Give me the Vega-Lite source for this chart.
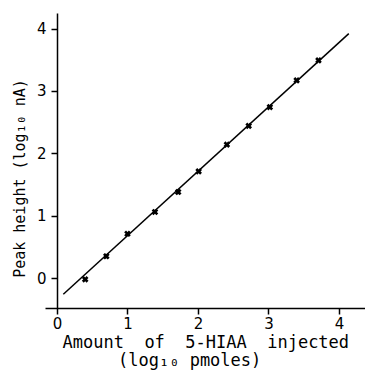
{
  "$schema": "https://vega.github.io/schema/vega-lite/v6.json",
  "autosize": "none",
  "width": 320,
  "height": 295,
  "padding": {"left": 45, "top": 13, "right": 0, "bottom": 64},
  "background": "white",
  "title": {
    "text": "(log₁₀\u00a0pmoles)",
    "orient": "bottom",
    "anchor": "start",
    "frame": "group",
    "dx": 73,
    "offset": 3,
    "baseline": "top",
    "font": "DejaVu Sans Mono",
    "fontSize": 17,
    "fontWeight": "normal",
    "color": "black"
  },
  "config": {
    "view": {"stroke": null},
    "axis": {
      "grid": false,
      "domainColor": "black",
      "domainWidth": 1.5,
      "tickColor": "black",
      "tickWidth": 1.5,
      "labelColor": "black",
      "titleColor": "black",
      "labelFont": "DejaVu Sans",
      "titleFont": "DejaVu Sans Mono",
      "labelFontSize": 15,
      "titleFontWeight": "normal",
      "format": "d"
    }
  },
  "datasets": {
    "pts": [
      {"x": 0.40, "y": -0.02},
      {"x": 0.70, "y": 0.35},
      {"x": 1.00, "y": 0.71},
      {"x": 1.39, "y": 1.06},
      {"x": 1.72, "y": 1.38},
      {"x": 2.01, "y": 1.71},
      {"x": 2.41, "y": 2.14},
      {"x": 2.72, "y": 2.44},
      {"x": 3.02, "y": 2.74},
      {"x": 3.40, "y": 3.17},
      {"x": 3.71, "y": 3.49}
    ],
    "fit": [
      {"x": 0.09, "y": -0.26},
      {"x": 4.14, "y": 3.92}
    ]
  },
  "layer": [
    {
      "data": {"name": "fit"},
      "mark": {"type": "line", "color": "black", "strokeWidth": 1.5},
      "encoding": {
        "x": {"field": "x", "type": "quantitative"},
        "y": {"field": "y", "type": "quantitative"}
      }
    },
    {
      "data": {"name": "pts"},
      "mark": {"type": "point", "shape": "cross", "angle": 45, "filled": true, "color": "black", "size": 45, "opacity": 1},
      "encoding": {
        "x": {
          "field": "x", "type": "quantitative",
          "scale": {"domain": [-0.17, 4.37], "nice": false, "zero": false},
          "axis": {
            "values": [0, 1, 2, 3, 4],
            "format": "d",
            "tickSize": 6,
            "labelPadding": 2,
            "title": "Amount\u00a0\u00a0of\u00a0\u00a05-HIAA\u00a0\u00a0injected",
            "titleFontSize": 17,
            "titleBaseline": "top",
            "titleAlign": "left",
            "titleAnchor": "start",
            "titleX": 17,
            "titleY": 26
          }
        },
        "y": {
          "field": "y", "type": "quantitative",
          "scale": {"domain": [-0.48, 4.25], "nice": false, "zero": false},
          "axis": {
            "values": [0, 1, 2, 3, 4],
            "format": "d",
            "offset": -12,
            "tickSize": 6,
            "labelPadding": 5,
            "title": "Peak height (log₁₀ nA)",
            "titleFontSize": 15,
            "titleX": -30,
            "titleY": 165
          }
        }
      }
    }
  ]
}
